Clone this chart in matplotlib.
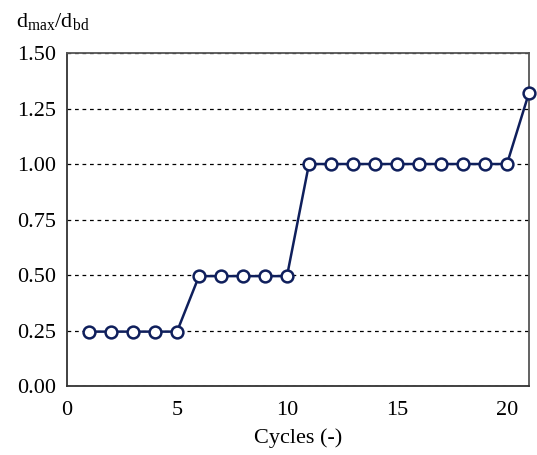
import matplotlib.pyplot as plt

cycles = list(range(1, 22))
ratio = [0.245] * 5 + [0.495] * 5 + [1.0] * 10 + [1.32]
y_ticks = [0.0, 0.25, 0.5, 0.75, 1.0, 1.25, 1.5]
x_ticks = [0, 5, 10, 15, 20]

plt.rcParams['font.family'] = ['Liberation Serif', 'DejaVu Serif']
plt.rcParams['mathtext.fontset'] = 'custom'
plt.rcParams['mathtext.rm'] = 'Liberation Serif'

fig = plt.figure(figsize=(5.37, 4.55), dpi=100)
ax = fig.add_axes([0.1248, 0.1516, 0.8602, 0.7319])

navy = '#0f1f5c'
ax.plot(cycles, ratio, color=navy, linewidth=1.8, marker='o', markersize=8.5,
        markerfacecolor='white', markeredgecolor=navy, markeredgewidth=1.8,
        zorder=3, clip_on=False)

ax.set_xlim(0, 21)
ax.set_ylim(0, 1.5)
ax.set_xticks(x_ticks)
ax.set_yticks(y_ticks)
ax.set_yticklabels([f'{v:.2f}' for v in y_ticks])
ax.tick_params(length=0, labelsize=16)
ax.tick_params(axis='x', pad=11)
ax.tick_params(axis='y', pad=8)
ax.yaxis.grid(True, linestyle=(0, (3, 3)), color='black', linewidth=0.9)
ax.set_axisbelow(True)

for side in ['top', 'right']:
    ax.spines[side].set_color('#555555')
for side in ['left', 'bottom']:
    ax.spines[side].set_color('#333333')
for s in ax.spines.values():
    s.set_linewidth(1.3)

ax.set_xlabel('Cycles (-)', fontsize=16, labelpad=6)
fig.text(0.03, 0.94, r'd$_{\mathrm{max}}$/d$_{\mathrm{bd}}$', fontsize=16)

plt.savefig('out.png')
